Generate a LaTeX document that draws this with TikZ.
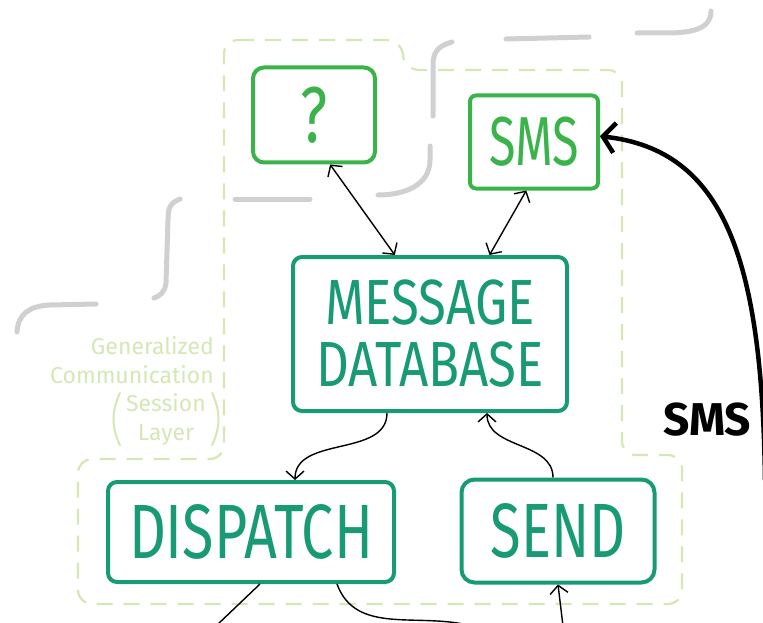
\documentclass[tikz,border=0pt]{standalone}
\usepackage{fontspec}
\setmainfont{Fira Sans}
\usepackage{graphicx}
\usetikzlibrary{arrows.meta}

\definecolor{boxgreen}{RGB}{58,179,74}
\definecolor{boxteal}{RGB}{24,154,117}
\definecolor{layergreen}{RGB}{212,231,180}
\definecolor{sketchgray}{RGB}{208,208,210}

\newcommand{\narrow}[1]{\scalebox{0.82}[1.1]{#1}}

\begin{document}
\begin{tikzpicture}[
        x=1pt,y=-1pt,
        green box/.style={draw=boxgreen,text=boxgreen,line width=4pt,rounded corners=9pt,inner sep=0pt,font=\fontsize{63}{63}\selectfont},
        teal box/.style={draw=boxteal,text=boxteal,line width=4pt,rounded corners=9pt,inner sep=0pt,align=center,font=\fontsize{58}{62}\selectfont},
        layer edge/.style={layergreen,line width=2.2pt,dash pattern=on 16pt off 11pt,rounded corners=14pt},
        layer text/.style={text=layergreen,font=\fontsize{23}{29}\selectfont,inner sep=0pt},
        layer paren/.style={layergreen,line width=2pt,line cap=round},
        sketch stroke/.style={sketchgray,line width=5pt,line cap=round},
        plain link/.style={black,line width=1.4pt},
        link/.style={plain link,-{Straight Barb[length=8pt,width=18pt]}},
        both link/.style={plain link,{Straight Barb[length=8pt,width=18pt]}-{Straight Barb[length=8pt,width=18pt]}},
        feed/.style={black,line width=4.5pt,-{Straight Barb[length=12pt,width=30pt]}},
        feed label/.style={text=black,font=\bfseries\fontsize{46}{46}\selectfont,inner sep=0pt}
    ]
        \useasboundingbox (0,0) rectangle (763,623);

        % sketchy outline behind
        \draw[sketch stroke] (711,11) .. controls (711,30) and (690,33) .. (665,33) -- (637,33);
        \draw[sketch stroke] (506,39) -- (589,37);
        \draw[sketch stroke] (452,42) .. controls (438,46) and (433,52) .. (433,65) -- (433,116);
        \draw[sketch stroke] (430,146) -- (430,160) .. controls (430,185) and (405,195) .. (378,195);
        \draw[sketch stroke] (235,199) -- (310,199);
        \draw[sketch stroke] (180,199) .. controls (170,203) and (168,208) .. (168,220) -- (166,283) .. controls (165,292) and (160,296) .. (154,298);
        \draw[sketch stroke] (96,304) -- (50,305) .. controls (28,306) and (18,315) .. (17,332);

        % session layer region
        \draw[layer edge] (224,40) -- (401,40) -- (405,70) -- (622,70) -- (622,455) -- (682,455)
            -- (682,604) -- (78,604) -- (78,459) -- (224,459) -- cycle;

        \node[layer text,anchor=east,align=right] (layername) at (214,360) {Generalized\\Communication};
        \node[layer text,align=center,inner xsep=6pt] (layersession) at (166,419) {Session\\Layer};
        \draw[layer paren] (layersession.north west) to[bend right=25] (layersession.south west);
        \draw[layer paren] (layersession.north east) to[bend left=25] (layersession.south east);

        % boxes
        \node[green box,minimum width=122pt,minimum height=95pt,rounded corners=11pt,font=\fontsize{72}{72}\selectfont] (qbox) at (314,115) {\narrow{?}};
        \node[green box,minimum width=128pt,minimum height=93pt,rounded corners=6pt] (smsbox) at (534,142) {\scalebox{0.77}[1.1]{SMS}};
        \node[teal box,minimum width=274pt,minimum height=154pt] (mdb) at (430,334) {\scalebox{0.88}[1.1]{MESSAGE}\\\scalebox{0.88}[1.1]{DATABASE}};
        \node[teal box,minimum width=286pt,minimum height=100pt,font=\fontsize{70}{70}\selectfont] (disp) at (251,532) {\narrow{DISPATCH}};
        \node[teal box,minimum width=193pt,minimum height=103pt,rounded corners=13pt,font=\fontsize{70}{70}\selectfont] (send) at (558,531) {\scalebox{0.8}[1.1]{SEND}};

        % connections
        \draw[both link] (qbox.-72) -- (mdb.114);
        \draw[both link] (smsbox.-99) -- (mdb.53);
        \draw[link] ([xshift=-43pt]mdb.south) to[out=-90,in=90] ([xshift=44pt]disp.north);
        \draw[link] ([xshift=-5pt]send.north) to[out=90,in=-90] ([xshift=57pt]mdb.south);

        \coordinate (dispexit) at (216,626);
        \coordinate (handoff) at (472,626);
        \coordinate (sendentry) at (563,626);
        \draw[plain link] ([xshift=9pt]disp.south) -- (dispexit);
        \draw[plain link] ([xshift=86pt]disp.south) to[out=-70,in=165] (handoff);
        \draw[link] (sendentry) -- (send.south);

        \coordinate (smsfeed) at (765,480);
        \draw[feed] (smsfeed) .. controls (762,260) and (725,150) .. (smsbox.5);
        \node[feed label] (smslabel) at (707,420) {SMS};
    \end{tikzpicture}
\end{document}
